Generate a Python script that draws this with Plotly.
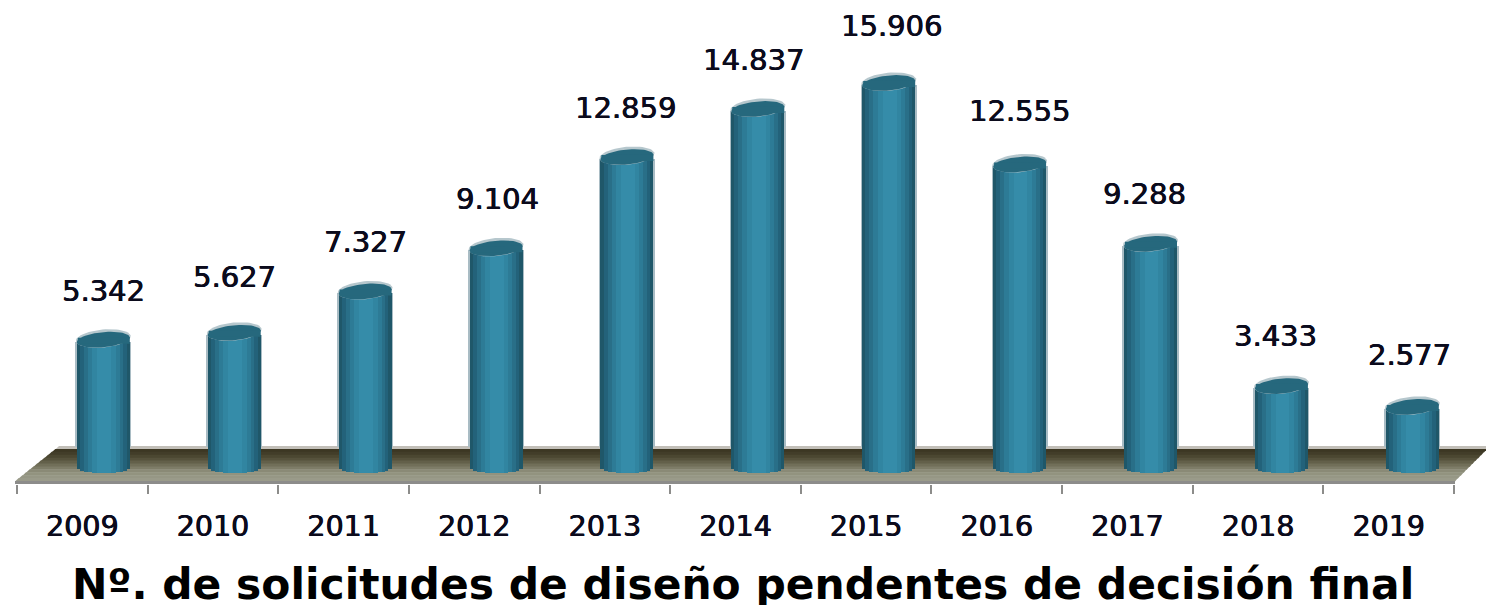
import numpy as np
import plotly.graph_objects as go

years = ["2009", "2010", "2011", "2012", "2013", "2014", "2015", "2016", "2017", "2018", "2019"]
pending = [5342, 5627, 7327, 9104, 12859, 14837, 15906, 12555, 9288, 3433, 2577]
value_labels = ["5.342", "5.627", "7.327", "9.104", "12.859", "14.837", "15.906", "12.555", "9.288", "3.433", "2.577"]
chart_title = "Nº. de solicitudes de diseño pendentes de decisión final"

W, H = 1486, 605
PX_CAT = 130.64          # px per category
X0_PX = 82.3             # px of first category centre
PX_UNIT = 0.02430        # px per data unit
BASE_PX = 469.5          # px of y = 0
AXIS_PX = 484
BAR_SHIFT = 21 / PX_CAT  # cylinders stand back on the 3D floor
BAR_STEP = 130.9 / PX_CAT
BAR_W = 53 / PX_CAT
A, B, TILT = 26.5, 7.5, np.radians(-5.5)
INK = "#0b0b1c"
THICK = "0.5px 0 0 #0b0b1c, -0.3px 0 0 #0b0b1c"


def xpx(p):
    return (p - X0_PX) / PX_CAT


def ypx(p):
    return (BASE_PX - p) / PX_UNIT


layers = [(1.06, "#a9bcc4", 0), (1.0, "#1f5769", 0), (0.88, "#23627a", 0), (0.74, "#296f88", 0.3),
          (0.6, "#2d7b96", 0.5), (0.44, "#3185a1", 0.8), (0.26, "#358ca9", 1.0)]

fig = go.Figure()
xs = np.arange(len(years)) * BAR_STEP + BAR_SHIFT
for frac, col, sh in layers:
    if frac > 1:
        base = ypx(447)
    else:
        base = (1 - 4.5 * np.sqrt(max(0, 1 - frac ** 2))) / PX_UNIT
    top_drop = 2.0 / PX_UNIT if frac >= 1 else 0
    fig.add_trace(go.Bar(
        x=xs + sh / PX_CAT, y=[v - base - top_drop for v in pending], base=base,
        width=BAR_W * frac, marker=dict(color=col, line=dict(width=0)),
        hoverinfo="skip", showlegend=False,
    ))

t = np.linspace(0, 2 * np.pi, 61)
for i, v in enumerate(pending):
    cx, cy = xs[i], v
    for a, b, dy, col in [(A + 1, B + 1.5, 1.2, "#b6c7cd"), (A, B, 0, "#26687d")]:
        ex = a * np.cos(t) * np.cos(TILT) - b * np.sin(t) * np.sin(TILT)
        ey = a * np.cos(t) * np.sin(TILT) + b * np.sin(t) * np.cos(TILT)
        fig.add_trace(go.Scatter(
            x=[cx + e / PX_CAT for e in ex],
            y=[cy + (-e + dy) / PX_UNIT for e in ey],
            mode="lines", fill="toself", fillcolor=col, line=dict(width=0),
            hoverinfo="skip", showlegend=False,
        ))
    # dark collar below the cap
    fig.add_trace(go.Scatter(
        x=[cx - (A - 1) / PX_CAT, cx + A / PX_CAT, cx + A / PX_CAT, cx - (A - 1) / PX_CAT],
        y=[cy + 2 / PX_UNIT, cy + 2.5 / PX_UNIT, cy - 4 / PX_UNIT, cy - 4 / PX_UNIT],
        mode="lines", fill="toself", fillcolor="#26687d", line=dict(width=0),
        hoverinfo="skip", showlegend=False,
    ))

# 3D floor: bands of a trapezoid
band_cols = ["#c2bfb8", "#3c3723", "#423d29", "#4b4731", "#56523c", "#63604a", "#716f59",
             "#7e7d68", "#8a8a76", "#92937f", "#969785", "#9a9b8a"]
TOP, BOT = 446.0, 481.0
L_TOP, L_BOT, R_TOP, R_BOT = 59.0, 15.0, 1490.0, 1455.0
shapes = []
n = len(band_cols)
for k, col in enumerate(band_cols):
    f0, f1 = k / n, (k + 1) / n
    y0, y1 = TOP + (BOT - TOP) * f0, TOP + (BOT - TOP) * f1
    l0, l1 = L_TOP + (L_BOT - L_TOP) * f0, L_TOP + (L_BOT - L_TOP) * f1
    r0, r1 = R_TOP + (R_BOT - R_TOP) * f0, R_TOP + (R_BOT - R_TOP) * f1
    shapes.append(dict(
        type="path", layer="below", xref="x", yref="y", line=dict(width=0), fillcolor=col,
        path=f"M{xpx(l0)},{ypx(y0)} L{xpx(r0)},{ypx(y0)} L{xpx(r1)},{ypx(y1 + 0.5)} L{xpx(l1)},{ypx(y1 + 0.5)} Z",
    ))
shapes.append(dict(type="path", layer="below", xref="x", yref="y", line=dict(width=0), fillcolor="#8c8c8a",
                   path=f"M{xpx(L_BOT)},{ypx(BOT)} L{xpx(R_BOT)},{ypx(BOT)} L{xpx(R_BOT)},{ypx(AXIS_PX)} L{xpx(L_BOT)},{ypx(AXIS_PX)} Z"))

nudge_x = [0, 0, 0, 1, -1, -4, 3, 0, -6, -6, -3]
nudge_y = [-2, 5, -2, -2, -2, -2, 6, 2, -1, -1, 1]
annotations = [dict(x=xs[i], y=v, text=value_labels[i], showarrow=False, xanchor="center", yanchor="middle",
                    xshift=nudge_x[i], yshift=51 + nudge_y[i],
                    font=dict(family="DejaVu Sans", size=29, color=INK, shadow=THICK))
               for i, v in enumerate(pending)]
annotations.append(dict(xref="paper", yref="paper", x=743 / W, y=(AXIS_PX - 584) / AXIS_PX, text=f"<b>{chart_title}</b>",
                        showarrow=False, xanchor="center", yanchor="middle",
                        font=dict(family="DejaVu Sans", size=42.4, color="#000000")))

fig.update_layout(
    width=W, height=H, margin=dict(l=0, r=0, t=0, b=H - AXIS_PX, pad=0),
    paper_bgcolor="white", plot_bgcolor="white", barmode="overlay", bargap=0,
    shapes=shapes, annotations=annotations, showlegend=False,
    xaxis=dict(
        range=[xpx(0), xpx(W)], showgrid=False, zeroline=False, showline=False,
        tickmode="array", tickvals=list(range(len(years))), ticktext=years, ticks="",
        ticklabelstandoff=22, tickfont=dict(family="DejaVu Sans", size=28.5, color=INK, shadow=THICK),
        minor=dict(tickmode="linear", tick0=-0.5, dtick=1, ticks="outside", ticklen=9, tickwidth=2,
                   tickcolor="#8c8c8a", showgrid=False),
    ),
    yaxis=dict(range=[ypx(AXIS_PX), ypx(0)], visible=False),
)
fig.write_html(
    "out.html", config=dict(displayModeBar=False),
    post_script="document.body.style.margin='0';document.body.style.overflow='hidden';",
)
